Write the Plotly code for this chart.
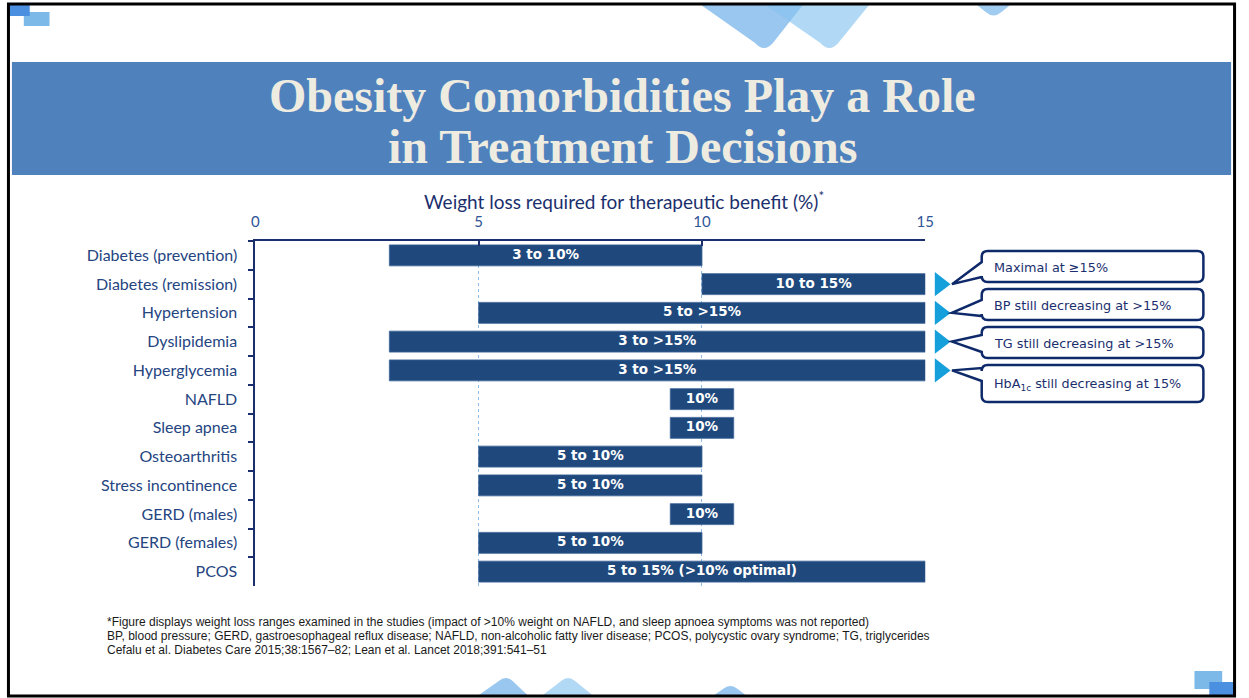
import plotly.graph_objects as go

# ---- data ----
conditions = [
    "Diabetes (prevention)", "Diabetes (remission)", "Hypertension", "Dyslipidemia",
    "Hyperglycemia", "NAFLD", "Sleep apnea", "Osteoarthritis", "Stress incontinence",
    "GERD (males)", "GERD (females)", "PCOS",
]
loss_low = [3, 10, 5, 3, 3, 10, 10, 5, 5, 10, 5, 5]
loss_high = [10, 15, 15, 15, 15, 10, 10, 10, 10, 10, 10, 15]
bar_labels = [
    "3 to 10%", "10 to 15%", "5 to >15%", "3 to >15%", "3 to >15%", "10%", "10%",
    "5 to 10%", "5 to 10%", "10%", "5 to 10%", "5 to 15% (>10% optimal)",
]
x_ticks = [0, 5, 10, 15]

callout_rows = ["Diabetes (remission)", "Hypertension", "Dyslipidemia", "Hyperglycemia"]
callout_texts = [
    "Maximal at ≥15%",
    "BP still decreasing at >15%",
    "TG still decreasing at >15%",
    "HbA<sub>1c</sub> still decreasing at 15%",
]

title_lines = ["Obesity Comorbidities Play a Role", "in Treatment Decisions"]

footnotes = [
    "*Figure displays weight loss ranges examined in the studies (impact of >10% weight on NAFLD, and sleep apnoea symptoms was not reported)",
    "BP, blood pressure; GERD, gastroesophageal reflux disease; NAFLD, non-alcoholic fatty liver disease; PCOS, polycystic ovary syndrome; TG, triglycerides",
    "Cefalu et al. Diabetes Care 2015;38:1567–82; Lean et al. Lancet 2018;391:541–51",
]

# ---- page geometry ----
W, H = 1249, 698
PLOT_L, PLOT_R = 254, 931          # x pixel extent of the plot area
PLOT_T, PLOT_B = 241, 586          # y pixel extent of the plot area
MARK_R = 1000                      # right end of the side axis used for arrowheads
POINT_HALF = 0.71                  # half width used for single-value bars
X_MAX = 15

NAVY = "#1B2F6E"
BAR = "#1F497D"
CYAN = "#15A0DB"


def px(x):
    return x / W


def py(y):
    return 1 - y / H


def row_pixel(name):
    step = (PLOT_B - PLOT_T) / len(conditions)
    return PLOT_T + step * (conditions.index(name) + 0.5)


bases, spans = [], []
for lo, hi in zip(loss_low, loss_high):
    if hi > lo:
        bases.append(lo)
        spans.append(hi - lo)
    else:
        bases.append(lo - POINT_HALF)
        spans.append(2 * POINT_HALF)
mids = [b + s / 2 for b, s in zip(bases, spans)]

fig = go.Figure()

fig.add_trace(go.Bar(
    y=conditions, x=spans, base=bases, orientation="h",
    width=0.73,
    marker=dict(color=BAR, line=dict(color="#3E6499", width=0.8)),
    hoverinfo="skip", showlegend=False,
))

# range labels centred on each bar
fig.add_trace(go.Scatter(
    y=conditions, x=mids, mode="text",
    text=[f"<b>{t}</b>" for t in bar_labels], textposition="middle center",
    textfont=dict(family="DejaVu Sans", size=13.5, color="white"),
    hoverinfo="skip", showlegend=False,
))

# cyan arrowheads next to the rows that continue past the axis
# (a hidden x axis sharing the same units, extended to the right)
fig.add_trace(go.Scatter(
    y=callout_rows, x=[15.33] * len(callout_rows), mode="markers", xaxis="x2",
    marker=dict(symbol="triangle-right", size=21, color=CYAN),
    cliponaxis=False, hoverinfo="skip", showlegend=False,
))

shapes = []


def rect(x0, y0, x1, y1, color):
    return dict(type="rect", xref="paper", yref="paper", x0=px(x0), x1=px(x1),
                y0=py(y1), y1=py(y0), fillcolor=color, line=dict(width=0), layer="below")


def path(d, color):
    return dict(type="path", xref="paper", yref="paper", path=d,
                fillcolor=color, line=dict(width=0), layer="below")


def P(x, y):
    return f"{px(x):.5f},{py(y):.5f}"


# decorative corner pieces
shapes.append(rect(20, 12, 46, 26, "#7DB9E8"))
shapes.append(rect(5, 4, 26, 16, "#4A8FE0"))
shapes.append(rect(1203, 671, 1231, 689, "#7DB9E8"))
shapes.append(rect(1218, 682, 1243, 697, "#4A8FE0"))

shapes.append(path(f"M{P(703,4)} L{P(808,4)} L{P(777,43)} Q{P(768,53)} {P(759,43)} Z",
                   "rgba(110,175,232,0.7)"))
shapes.append(path(f"M{P(768,4)} L{P(875,4)} L{P(843,43)} Q{P(834,53)} {P(825,43)} Z",
                   "rgba(135,195,240,0.65)"))
shapes.append(path(f"M{P(982,4)} L{P(1018,4)} L{P(1008,12)} Q{P(1000,19)} {P(992,12)} Z",
                   "rgba(120,182,235,0.7)"))
shapes.append(path(f"M{P(477,697)} L{P(500,681)} Q{P(507,675)} {P(514,681)} L{P(531,697)} Z",
                   "rgba(110,175,232,0.7)"))
shapes.append(path(f"M{P(542,697)} L{P(563,681)} Q{P(570,675)} {P(577,681)} L{P(597,697)} Z",
                   "rgba(135,195,240,0.65)"))
shapes.append(path(f"M{P(715,697)} L{P(728,688)} Q{P(734,684)} {P(740,688)} L{P(752,697)} Z",
                   "rgba(110,175,232,0.7)"))

# title band
shapes.append(dict(type="rect", xref="paper", yref="paper", x0=px(8), x1=px(1240),
                   y0=py(175), y1=py(62), fillcolor="#4F81BD", line=dict(width=0), layer="below"))

# callout bubbles with pointers
box_tops = [251, 289, 327, 365]
box_bottoms = [282, 320, 358, 402]
attach = [(262, 277), (300, 316), (335, 352), (368, 381)]
BX0, BX1, TIPX, R = 988, 1212, 958, 6
for row, y0, y1, (a1, a2) in zip(callout_rows, box_tops, box_bottoms, attach):
    ty = row_pixel(row)
    d = (f"M{P(BX0+R,y0)} L{P(BX1-R,y0)} Q{P(BX1,y0)} {P(BX1,y0+R)} "
         f"L{P(BX1,y1-R)} Q{P(BX1,y1)} {P(BX1-R,y1)} L{P(BX0+R,y1)} "
         f"Q{P(BX0,y1)} {P(BX0,y1-R)} L{P(BX0,a2)} L{P(TIPX,ty)} L{P(BX0,a1)} "
         f"L{P(BX0,y0+R)} Q{P(BX0,y0)} {P(BX0+R,y0)} Z")
    shapes.append(dict(type="path", xref="paper", yref="paper", path=d,
                       fillcolor="white", line=dict(color="#0F2A6A", width=2.5), layer="above"))

# slide frame
shapes.append(dict(type="rect", xref="paper", yref="paper", x0=px(4.5), x1=px(1243.5),
                   y0=py(696), y1=py(4), fillcolor="rgba(0,0,0,0)",
                   line=dict(color="black", width=3), layer="above"))

annotations = []
for line, yc in zip(title_lines, [95, 146]):
    annotations.append(dict(
        text=f"<b>{line}</b>",
        xref="paper", yref="paper", x=px(625), y=py(yc), xanchor="center", yanchor="middle",
        showarrow=False, align="center",
        font=dict(family="Liberation Serif", size=48, color="#EEECE1"),
    ))
annotations.append(dict(
    text="Weight loss required for therapeutic benefit (%)<sup>*</sup>",
    xref="paper", yref="paper", x=px(627), y=py(200), xanchor="center", yanchor="middle",
    showarrow=False, font=dict(family="Lato", size=19, color=NAVY),
))
for y0, y1, txt in zip(box_tops, box_bottoms, callout_texts):
    annotations.append(dict(
        text=txt, xref="paper", yref="paper", x=px(998), y=py((y0 + y1) / 2 + 1),
        xanchor="left", yanchor="middle", showarrow=False,
        font=dict(family="DejaVu Sans", size=12.8, color=NAVY),
    ))
for i, line in enumerate(footnotes):
    annotations.append(dict(
        text=line, xref="paper", yref="paper", x=px(102), y=py(622 + 14 * i),
        xanchor="left", yanchor="middle", showarrow=False,
        font=dict(family="Liberation Sans", size=12, color="#1A1A1A"),
    ))

fig.update_layout(
    width=W, height=H,
    margin=dict(l=0, r=0, t=0, b=0),
    paper_bgcolor="white", plot_bgcolor="rgba(0,0,0,0)",
    shapes=shapes, annotations=annotations,
    xaxis=dict(
        side="top", range=[0, X_MAX], domain=[px(PLOT_L), px(PLOT_R)],
        tickvals=x_ticks, ticktext=[str(v) for v in x_ticks],
        tickfont=dict(family="Lato", size=15, color="#2F5597"),
        ticks="inside", ticklen=5, tickcolor=NAVY, tickwidth=1.5,
        showline=True, linecolor=NAVY, linewidth=2,
        showgrid=True, gridcolor="#8DBDE6", griddash="dot", gridwidth=1,
        zeroline=False, fixedrange=True, ticklabelstandoff=6,
    ),
    xaxis2=dict(
        anchor="y", visible=False, fixedrange=True,
        domain=[px(PLOT_L), px(MARK_R)],
        range=[0, X_MAX * (MARK_R - PLOT_L) / (PLOT_R - PLOT_L)],
    ),
    yaxis=dict(
        domain=[py(PLOT_B), py(PLOT_T)],
        categoryorder="array", categoryarray=conditions,
        range=[len(conditions) - 0.5, -0.5],
        tickfont=dict(family="Lato", size=16, color="#24457F"),
        ticks="outside", ticklen=5, tickcolor=NAVY, tickwidth=1.5,
        tickson="boundaries",
        showline=True, linecolor=NAVY, linewidth=2,
        showgrid=False, zeroline=False, fixedrange=True, ticklabelstandoff=13,
    ),
)

fig.write_html("out.html")
